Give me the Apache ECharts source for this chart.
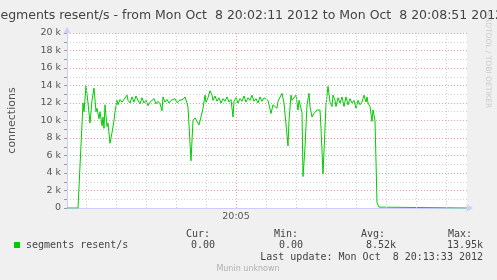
<!DOCTYPE html>
<html>
<head>
<meta charset="utf-8">
<script src="https://cdn.jsdelivr.net/npm/echarts@6/dist/echarts.min.js"></script>
<style>
html,body{margin:0;padding:0;background:#f0f0f0;}
#c{width:497px;height:280px;}
</style>
</head>
<body>
<div id="c"></div>
<script>
// seconds since 20:02:11
var times = [0,11,16,17,19,21,23,25,27,29,30,32,33,35,36,37,38,40,41,43,45,47,48,50,51,53,55,57,60,61,63,65,67,69,71,73,75,77,79,81,83,85,87,89,91,93,95,96,98,100,102,104,106,108,110,112,114,116,118,120,121,124,126,128,130,132,134,136,138,139,141,143,145,146,148,150,152,154,156,158,160,162,164,166,167,169,171,173,175,177,179,181,183,185,187,189,191,193,195,197,199,201,204,206,208,210,211,213,215,217,218,221,222,224,225,227,229,231,232,234,235,236,238,240,242,243,245,247,248,250,252,253,254,256,259,261,263,265,266,268,269,271,273,275,277,279,281,283,285,287,289,291,293,295,297,299,300,301,303,305,306,308,310,312,314,400];
// segments resent/s, in thousands
var values = [0,0,12.0,11.0,13.95,12.0,9.7,12.3,13.7,11.0,11.4,10.2,11.0,9.4,10.4,9.1,11.8,9.3,9.7,7.4,8.6,10.0,11.0,12.3,11.8,12.4,12.1,12.3,12.9,12.3,12.0,12.7,12.1,12.8,12.3,11.9,12.6,12.0,12.3,11.7,12.1,12.0,12.5,11.9,12.2,11.9,11.1,12.7,12.1,12.4,12.0,12.3,12.1,12.5,12.0,12.3,12.1,12.4,12.7,12.0,11.5,5.4,10.0,10.3,10.3,9.5,10.4,11.4,12.9,12.1,12.6,13.4,12.9,12.3,12.8,12.2,12.6,12.0,12.5,12.2,12.7,12.1,12.4,10.4,12.2,12.6,12.0,12.5,12.2,12.8,12.1,12.6,12.3,12.9,12.2,12.5,12.0,12.7,12.2,12.6,12.7,12.3,10.8,11.8,12.0,11.4,12.2,12.1,13.1,12.0,12.1,7.1,10.0,12.9,12.3,12.1,12.9,11.2,12.3,12.1,10.9,3.6,6.9,11.8,13.1,11.6,10.4,10.8,11.0,11.2,11.0,11.2,9.1,3.9,11.8,13.9,12.1,11.6,12.9,12.3,11.6,12.6,12.0,12.7,11.6,12.7,11.8,12.5,12.0,12.3,11.4,12.3,11.8,12.1,12.9,12.1,12.7,12.0,11.6,9.9,11.2,10.0,0.6,0.1,0,0];
// vertical grid positions (seconds since 20:02:11), 30 s apart
var gridTimes = [19,49,79,109,139,199,229,259,289,319,349,379];
var majorTime = 169; // 20:05:00
var majorLabel = '20:05';
var yTickStep = 1; // k
var yLabelStep = 2; // k
var yMax = 20;

var titleText = 'segments resent/s - from Mon Oct  8 20:02:11 2012 to Mon Oct  8 20:08:51 2012';
var legendName = 'segments resent/s';
var statHeads = ['Cur:', 'Min:', 'Avg:', 'Max:'];
var statVals = ['0.00', '0.00', '8.52k', '13.95k'];
var lastUpdate = 'Last update: Mon Oct  8 20:13:33 2012';

var data = times.map(function(t, i){ return [t, values[i]]; });

var chart = echarts.init(document.getElementById('c'), null, {renderer:'canvas'});
var mono = '"DejaVu Sans Mono", monospace';
var sans = '"DejaVu Sans", sans-serif';
var minorC = '#cfcfcf', majorC = '#e6a0a0';

var gridLines = gridTimes.map(function(t){
  return {xAxis: t, lineStyle: {color: minorC, type: [1,2], width: 1}};
});
gridLines.push({xAxis: majorTime, lineStyle: {color: majorC, type: [1,2], width: 1}});

var headX = [186, 274, 361, 448];
var valRight = [215, 303, 396, 483];
var graphics = [
  {type:'rect', shape:{x:14, y:242, width:6, height:6}, style:{fill:'#00cc00'}},
  {type:'text', x:26, y:245, style:{text:legendName, font:'10px '+mono, fill:'#444', verticalAlign:'middle'}},
  {type:'text', x:483, y:257, style:{text:lastUpdate, font:'10px '+mono, fill:'#444', align:'right', verticalAlign:'middle'}},
  {type:'text', x:248, y:269, style:{text:'Munin unknown', font:'8px '+sans, fill:'#b0b0b0', align:'center', verticalAlign:'middle'}},
  {type:'text', x:488, y:60, rotation:-Math.PI/2, style:{text:'RRDTOOL / TOBI OETIKER', font:'7.5px '+sans, fill:'#cccccc', align:'center', verticalAlign:'middle'}}
];
statHeads.forEach(function(h, i){
  graphics.push({type:'text', x:headX[i], y:234, style:{text:h, font:'10px '+mono, fill:'#444', verticalAlign:'middle'}});
  graphics.push({type:'text', x:valRight[i], y:245, style:{text:statVals[i], font:'10px '+mono, fill:'#444', align:'right', verticalAlign:'middle'}});
});

chart.setOption({
  animation: false,
  backgroundColor: '#f0f0f0',
  title: {
    text: titleText, left: 'center', top: 4,
    textStyle: {fontFamily: sans, fontSize: 12.5, fontWeight: 'normal', color: '#444'}
  },
  grid: {left: 67, right: 30, top: 33, bottom: 72, show: true, backgroundColor: '#ffffff', borderWidth: 0,
         containLabel: false, outerBoundsMode: 'none'},
  xAxis: {
    type: 'value', min: 0, max: 400, interval: majorTime,
    axisLine: {lineStyle: {color: '#ccccff'}, symbol: ['none', 'arrow'], symbolSize: [6, 7], symbolOffset: [0, 6]},
    axisTick: {show: false},
    splitLine: {show: false},
    axisLabel: {
      margin: 4, color: '#555', fontFamily: sans, fontSize: 9.5,
      formatter: function(v){ return v === majorTime ? majorLabel : ''; }
    }
  },
  yAxis: {
    type: 'value', min: 0, max: yMax, interval: yTickStep,
    name: 'connections', nameLocation: 'middle', nameGap: 49, nameRotate: 90,
    nameTextStyle: {fontFamily: sans, fontSize: 11, color: '#555'},
    axisLine: {show: true, lineStyle: {color: '#ccccff'}, symbol: ['none', 'arrow'], symbolSize: [6, 7], symbolOffset: [0, 6]},
    axisTick: {show: true, length: 3, lineStyle: {color: '#999'}},
    splitLine: {show: true, lineStyle: {color: [majorC, minorC], type: [1, 2], width: 1}},
    axisLabel: {
      margin: 6, color: '#555', fontFamily: sans, fontSize: 9.5, hideOverlap: false,
      showMinLabel: true, showMaxLabel: true,
      formatter: function(v){
        var r = Math.round(v);
        if (r % yLabelStep !== 0) return '';
        return r === 0 ? '0' : r + ' k';
      }
    }
  },
  series: [
    {
      type: 'line', data: [], silent: true, z: 1,
      markLine: {silent: true, symbol: ['none', 'none'], label: {show: false}, animation: false, data: gridLines}
    },
    {
      type: 'line', data: data, showSymbol: false, z: 3,
      lineStyle: {color: '#00cc00', width: 1}, itemStyle: {color: '#00cc00'}
    }
  ],
  graphic: graphics
});
</script>
</body>
</html>
